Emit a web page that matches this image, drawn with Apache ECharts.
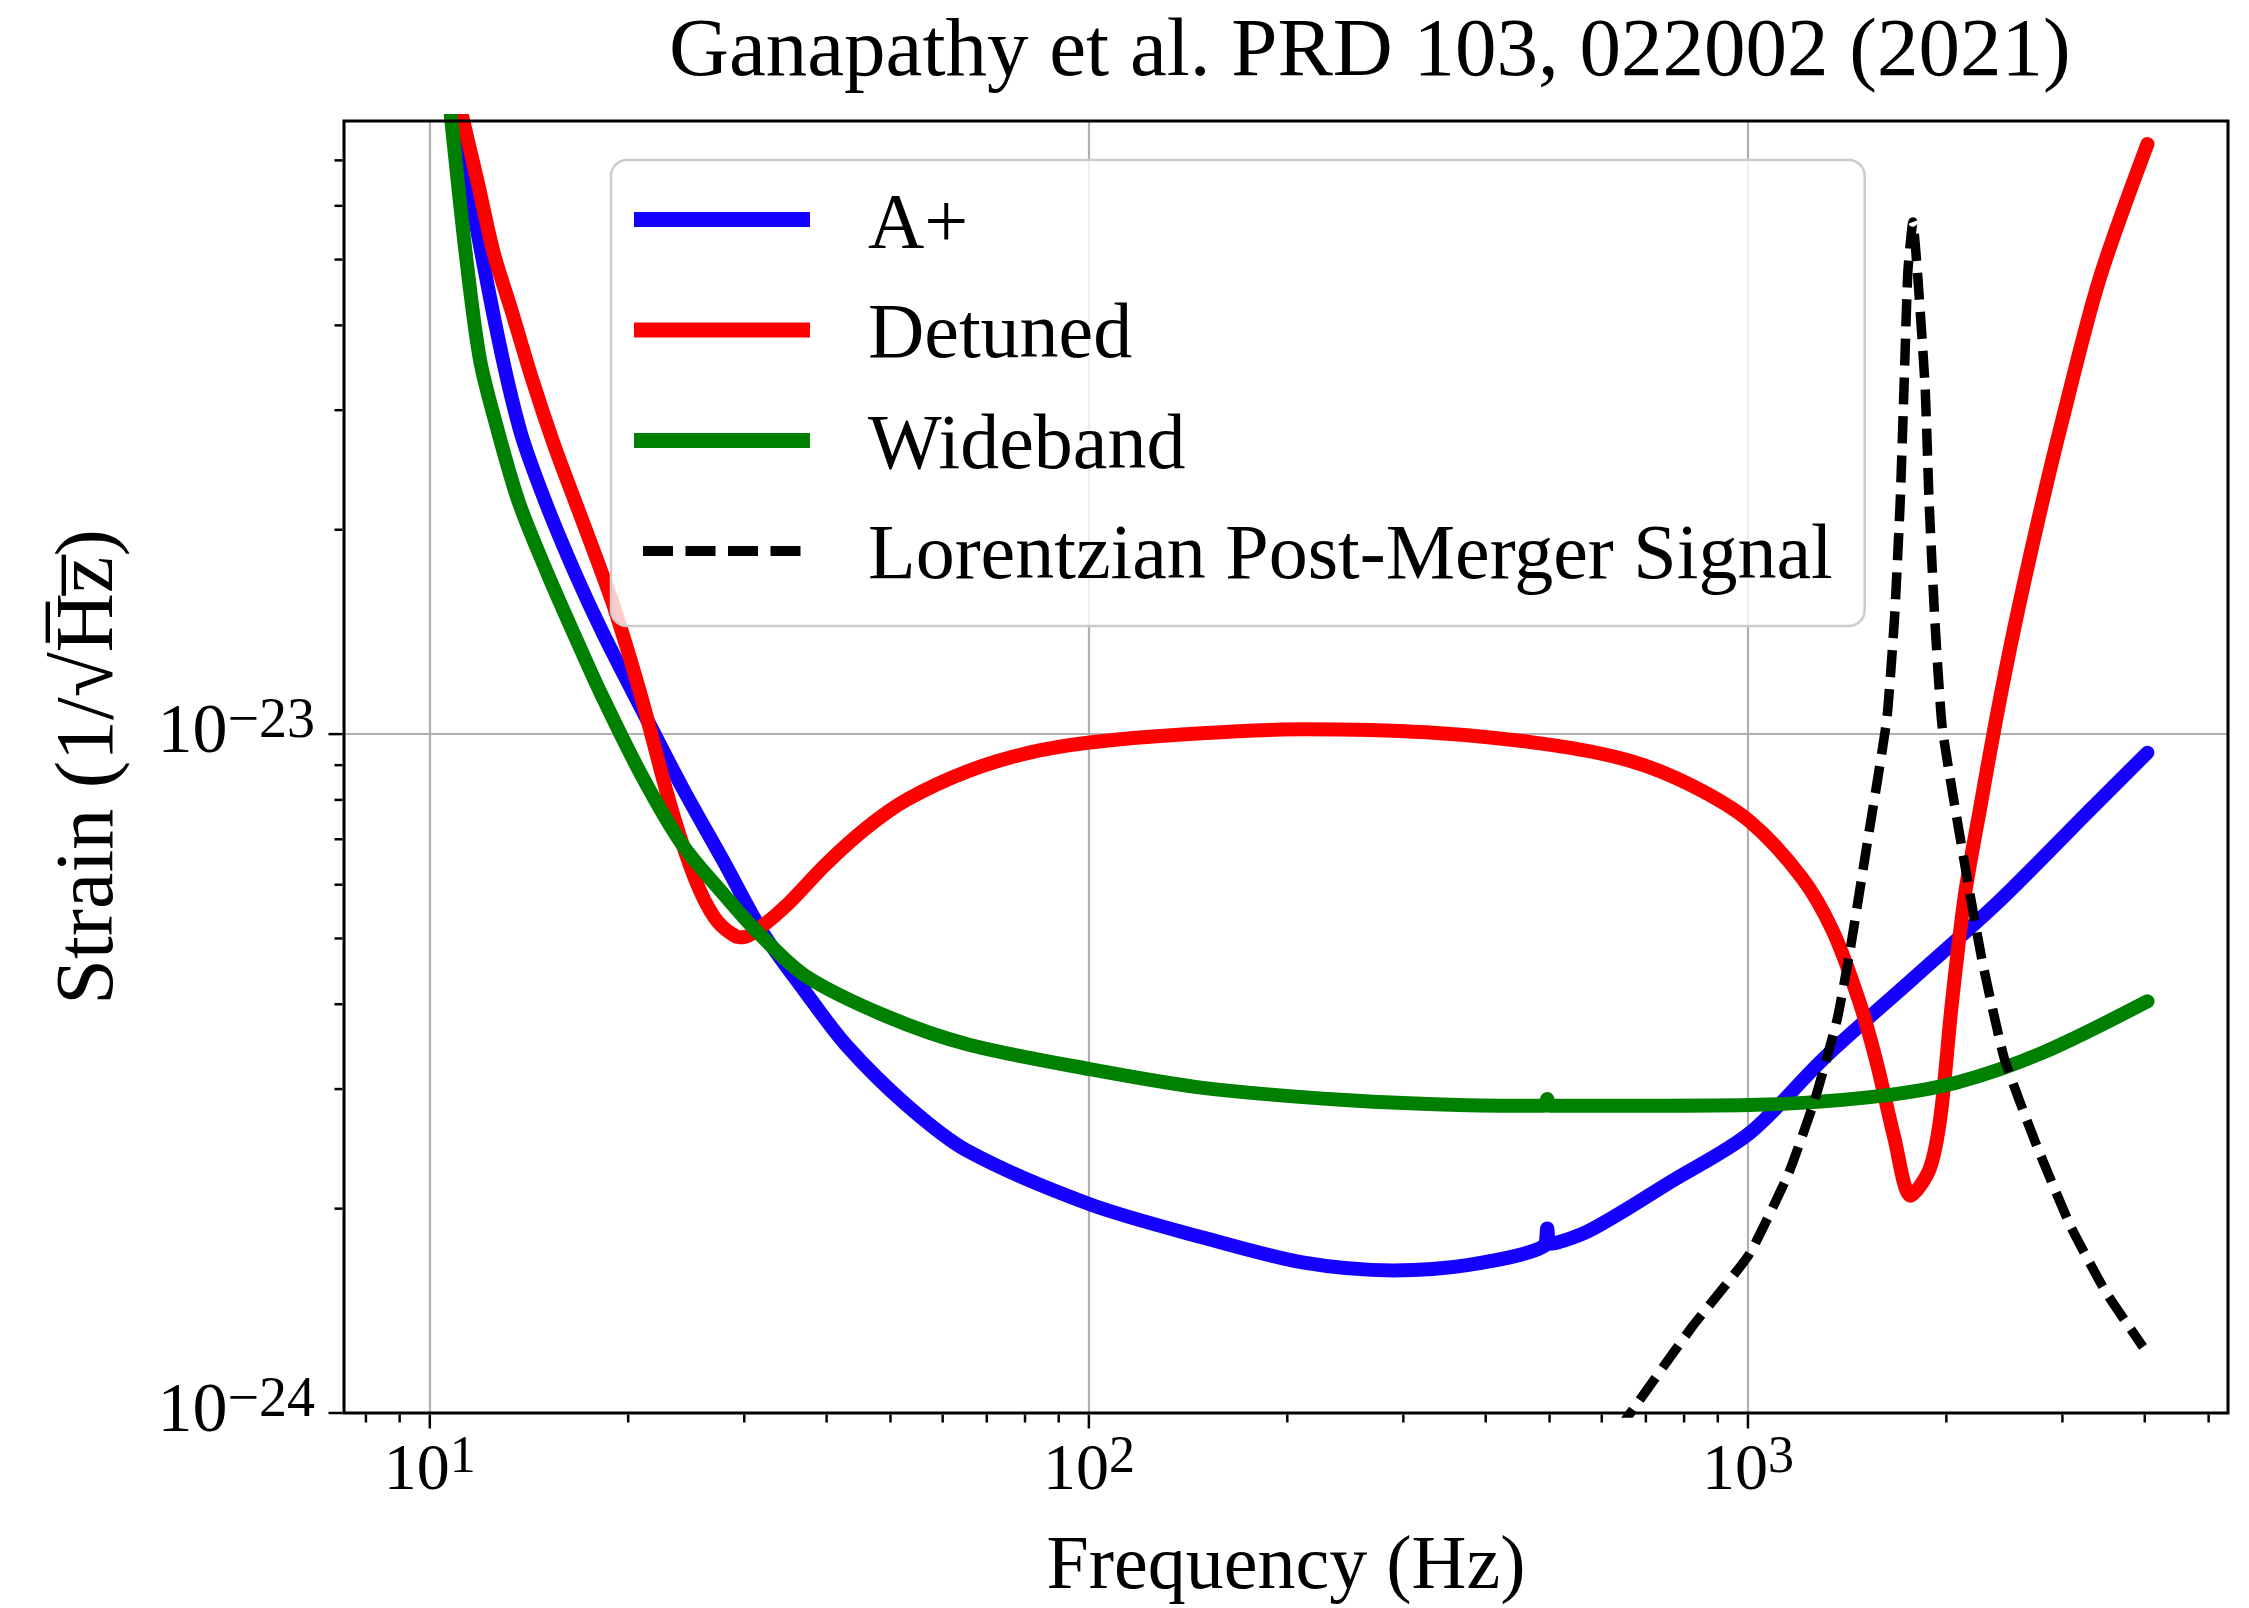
<!DOCTYPE html>
<html>
<head>
<meta charset="utf-8">
<script src="https://cdn.jsdelivr.net/npm/echarts@6/dist/echarts.min.js"></script>
<style>html,body{margin:0;padding:0;background:#fff}#chart{width:2249px;height:1608px}</style>
</head>
<body>
<div id="chart"></div>
<script>
// ---------- data ----------
const titleText = 'Ganapathy et al. PRD 103, 022002 (2021)';
const seriesNames = ['A+', 'Detuned', 'Wideband', 'Lorentzian Post-Merger Signal'];
const xAxisName = 'Frequency (Hz)';
const yAxisName = 'Strain (1/\u221AH\u0305z\u0305)';

// [frequency Hz, strain 1/sqrt(Hz)]
const aPlus = [
  [10, 1.3e-22], [10.99, 8.0e-23], [12.57, 4.02e-23], [13.71, 2.80e-23], [15.0, 2.19e-23],
  [16.64, 1.72e-23], [18.3, 1.41e-23], [20.95, 1.09e-23], [24.15, 8.35e-24], [27.87, 6.51e-24],
  [32.13, 5.07e-24], [37.07, 4.18e-24], [42.74, 3.49e-24], [52.94, 2.84e-24], [65.56, 2.43e-24],
  [100.3, 2.03e-24], [150, 1.81e-24], [212, 1.665e-24], [290, 1.622e-24], [375, 1.651e-24],
  [490, 1.76e-24], [496, 1.87e-24], [500, 1.775e-24], [575, 1.857e-24], [765, 2.193e-24],
  [1004, 2.58e-24], [1304, 3.33e-24], [1774, 4.35e-24], [2412, 5.69e-24], [3280, 7.68e-24],
  [4038, 9.39e-24]
];
const detuned = [
  [10, 1.3e-22], [11.23, 8.03e-23], [11.81, 6.53e-23], [12.49, 5.13e-23], [13.29, 4.22e-23],
  [14.33, 3.31e-23], [15.44, 2.665e-23], [16.64, 2.194e-23], [17.93, 1.807e-23], [19.09, 1.526e-23],
  [20.95, 1.132e-23], [23.14, 7.9e-24], [25.21, 6.15e-24], [27.07, 5.36e-24], [29.08, 5.04e-24],
  [29.92, 5.02e-24], [31.68, 5.18e-24], [35.01, 5.63e-24], [39.8, 6.415e-24], [45.9, 7.265e-24],
  [52.94, 8.006e-24], [65.56, 8.82e-24], [81.21, 9.39e-24], [100.3, 9.72e-24], [138.2, 9.99e-24],
  [212, 1.017e-23], [325, 1.006e-23], [499, 9.65e-24], [663.5, 9.13e-24], [821.6, 8.4e-24],
  [1004, 7.45e-24], [1208, 6.14e-24], [1345, 5.13e-24], [1475, 4.04e-24], [1568, 3.28e-24],
  [1668, 2.54e-24], [1766, 2.09e-24], [1887, 2.29e-24], [1960, 2.74e-24], [2037, 3.98e-24],
  [2133, 5.78e-24], [2251, 7.79e-24], [2379, 1.05e-23], [2542, 1.45e-23], [2754, 2.058e-23],
  [2985, 2.848e-23], [3411, 4.665e-23], [4038, 7.4e-23]
];
const wideband = [
  [10, 1.6e-22], [10.78, 8.03e-23], [11.33, 5.13e-23], [11.91, 3.57e-23], [12.68, 2.80e-23],
  [13.66, 2.19e-23], [15.1, 1.72e-23], [16.68, 1.38e-23], [18.16, 1.15e-23], [20.95, 8.70e-24],
  [24.15, 6.88e-24], [27.87, 5.82e-24], [31.24, 5.14e-24], [37.07, 4.41e-24], [49.29, 3.84e-24],
  [65.56, 3.49e-24], [100.3, 3.21e-24], [150, 3.01e-24], [244.5, 2.89e-24], [375, 2.84e-24],
  [490, 2.835e-24], [496, 2.90e-24], [500, 2.835e-24], [663, 2.835e-24], [1004, 2.842e-24],
  [1521, 2.917e-24], [2069, 3.066e-24], [2813, 3.40e-24], [4038, 4.04e-24]
];
const lorentzian = [
  [500, 6.8e-25], [668, 1.01e-24], [822, 1.338e-24], [1004, 1.712e-24], [1153, 2.257e-24],
  [1265, 2.908e-24], [1366, 3.805e-24], [1430, 4.83e-24], [1521, 7.02e-24], [1624, 1.05e-23],
  [1669, 1.487e-23], [1702, 2.196e-23], [1725, 3.242e-23], [1748, 4.79e-23], [1779, 5.68e-23],
  [1808, 4.79e-23], [1857, 3.242e-23], [1883, 2.196e-23], [1920, 1.487e-23], [1972, 1.02e-23],
  [2133, 6.42e-24], [2268, 4.62e-24], [2449, 3.327e-24], [2729, 2.505e-24], [3085, 1.886e-24],
  [3490, 1.508e-24], [3976, 1.251e-24]
];

// axis ranges and tick values (strain in 1/sqrt(Hz))
const xRange = [7.41, 5350];
const yRange = [1e-24, 8e-23];
const xMajorTicks = [10, 100, 1000];
const xMinorTicks = [8, 9, 20, 30, 40, 50, 60, 70, 80, 90, 200, 300, 400, 500, 600, 700, 800, 900, 2000, 3000, 4000, 5000];
const yMajorTicks = [1e-24, 1e-23];
const yMinorTicks = [2e-24, 3e-24, 4e-24, 5e-24, 6e-24, 7e-24, 8e-24, 9e-24, 2e-23, 3e-23, 4e-23, 5e-23, 6e-23, 7e-23];

// The y axis runs in units of 1e-24 (exact power of ten) so the library's
// log-axis tick rounding never sees values that are too small.
const Y_UNIT_EXP = -24;
const Y_UNIT = Math.pow(10, Y_UNIT_EXP);
const toY = s => s / Y_UNIT;

// ---------- styling ----------
const FONT = '"Liberation Serif", "DejaVu Serif", serif';
const COLORS = ['#1500ff', '#ff0000', '#008000', '#000000'];

function powLabel(v, expOffset) {
  if (typeof v !== 'number' || !(v > 0)) return '';
  const e = Math.log10(v);
  if (!isFinite(e)) return '';
  const r = Math.round(e);
  if (Math.abs(e - r) > 1e-6) return '';
  const ex = r + expOffset;
  return '{base|10}{sup|' + (ex < 0 ? '\u2212' + (-ex) : String(ex)) + '}';
}
const richX = {
  base: { fontFamily: FONT, fontSize: 66, lineHeight: 80, color: '#000' },
  sup: { fontFamily: FONT, fontSize: 52, lineHeight: 38, verticalAlign: 'top', color: '#000' }
};
const richY = {
  base: { fontFamily: FONT, fontSize: 70, lineHeight: 80, color: '#000' },
  sup: { fontFamily: FONT, fontSize: 56, lineHeight: 36, verticalAlign: 'top', color: '#000' }
};

const chart = echarts.init(document.getElementById('chart'), null, { renderer: 'canvas' });

const lineSeries = [aPlus, detuned, wideband, lorentzian].map((d, i) => ({
  type: 'line',
  name: seriesNames[i],
  data: d.map(p => [p[0], toY(p[1])]),
  symbol: 'none',
  smooth: i === 3 ? 0.15 : 0.3,
  clip: true,
  z: 2 + i * 0.01,
  color: COLORS[i],
  lineStyle: i === 3
    ? { color: COLORS[i], width: 9.5, type: [27, 12], cap: 'butt', join: 'round' }
    : { color: COLORS[i], width: 14, type: 'solid', cap: 'round', join: 'round' },
  emphasis: { disabled: true }
}));

const tickSeriesX = {
  type: 'custom', name: 'xTicks', coordinateSystem: 'cartesian2d', silent: true, clip: false, z: 6,
  data: xMajorTicks.map(v => [v, toY(yRange[0]), 1]).concat(xMinorTicks.map(v => [v, toY(yRange[0]), 0])),
  encode: { x: 0, y: 1 },
  renderItem(params, api) {
    const p = api.coord([api.value(0), api.value(1)]);
    const len = api.value(2) ? 14 : 8;
    return { type: 'line', shape: { x1: p[0], y1: p[1] + 1.5, x2: p[0], y2: p[1] + 1.5 + len },
             style: { stroke: '#000', lineWidth: 2.5 } };
  }
};
const tickSeriesY = {
  type: 'custom', name: 'yTicks', coordinateSystem: 'cartesian2d', silent: true, clip: false, z: 6,
  data: yMajorTicks.map(v => [xRange[0], toY(v), 1]).concat(yMinorTicks.map(v => [xRange[0], toY(v), 0])),
  encode: { x: 0, y: 1 },
  renderItem(params, api) {
    const p = api.coord([api.value(0), api.value(1)]);
    const len = api.value(2) ? 14 : 8;
    return { type: 'line', shape: { x1: p[0] - 1.5, y1: p[1], x2: p[0] - 1.5 - len, y2: p[1] },
             style: { stroke: '#000', lineWidth: 2.5 } };
  }
};
// axes frame (spines) drawn on top of grid lines and curves
const frameSeries = {
  type: 'custom', name: 'frame', coordinateSystem: 'cartesian2d', silent: true, clip: false, z: 7,
  data: [[xRange[0], toY(yRange[0])]],
  encode: { x: 0, y: 1 },
  renderItem(params, api) {
    const cs = params.coordSys;
    return { type: 'rect', shape: { x: cs.x, y: cs.y, width: cs.width, height: cs.height },
             style: { stroke: '#000', lineWidth: 3, fill: null } };
  }
};

// legend handles: drawn in the upper 15px of a 176x29 box so the text sits slightly lower
const SPACER = 'M0,0L0,0M176,29L176,29';
const solidIcon = 'path://' + SPACER + 'M0,0h176v15h-176z';
const dashIcon = 'path://' + SPACER + 'M9,2.5h30v10h-30zM51.5,2.5h30v10h-30zM94,2.5h30v10h-30zM136.5,2.5h30v10h-30z';

const option = {
  animation: false,
  backgroundColor: '#ffffff',
  textStyle: { fontFamily: FONT },
  title: {
    text: titleText, left: 669, top: 12, padding: 0,
    textStyle: { fontFamily: FONT, fontSize: 83, fontWeight: 'normal', color: '#000' }
  },
  grid: {
    left: 344, top: 121, width: 1884, height: 1292,
    show: false, containLabel: false, outerBoundsMode: 'none'
  },
  legend: {
    orient: 'vertical', left: 611, top: 160,
    padding: [26.5, 32, 28, 23],
    itemWidth: 176, itemHeight: 29, itemGap: 30.5,
    backgroundColor: 'rgba(255,255,255,0.8)', borderColor: '#cccccc', borderWidth: 2.5, borderRadius: 16,
    selectedMode: false,
    textStyle: { fontFamily: FONT, fontSize: 78, lineHeight: 80, color: '#000', padding: [0, 0, 0, 53] },
    itemStyle: { borderWidth: 0 },
    data: [
      { name: seriesNames[0], icon: solidIcon, itemStyle: { color: COLORS[0], borderWidth: 0 } },
      { name: seriesNames[1], icon: solidIcon, itemStyle: { color: COLORS[1], borderWidth: 0 } },
      { name: seriesNames[2], icon: solidIcon, itemStyle: { color: COLORS[2], borderWidth: 0 } },
      { name: seriesNames[3], icon: dashIcon, itemStyle: { color: COLORS[3], borderWidth: 0 } }
    ]
  },
  xAxis: {
    type: 'log', logBase: 10, min: xRange[0], max: xRange[1],
    name: xAxisName, nameLocation: 'middle', nameGap: 117, nameMoveOverlap: false,
    nameTextStyle: { fontFamily: FONT, fontSize: 76, lineHeight: 76, color: '#000' },
    axisLine: { show: false }, axisTick: { show: false },
    axisLabel: { show: true, margin: 19, fontFamily: FONT, fontSize: 66, color: '#000',
                 formatter: v => powLabel(v, 0), rich: richX, hideOverlap: false },
    splitLine: { show: true, lineStyle: { color: '#b0b0b0', width: 2.2 } },
    minorTick: { show: false }, minorSplitLine: { show: false }
  },
  yAxis: {
    type: 'log', logBase: 10, min: toY(yRange[0]), max: toY(yRange[1]),
    name: yAxisName, nameLocation: 'middle', nameRotate: 90, nameGap: 213, nameMoveOverlap: false,
    nameTextStyle: { fontFamily: FONT, fontSize: 82, lineHeight: 82, color: '#000' },
    axisLine: { show: false }, axisTick: { show: false },
    axisLabel: { show: true, margin: 29, fontFamily: FONT, fontSize: 70, color: '#000',
                 formatter: v => powLabel(v, Y_UNIT_EXP), rich: richY, hideOverlap: false,
                 showMinLabel: true, showMaxLabel: true },
    splitLine: { show: true, lineStyle: { color: '#b0b0b0', width: 2.2 } },
    minorTick: { show: false }, minorSplitLine: { show: false }
  },
  series: lineSeries.concat([tickSeriesX, tickSeriesY, frameSeries])
};
chart.setOption(option);
</script>
</body>
</html>
